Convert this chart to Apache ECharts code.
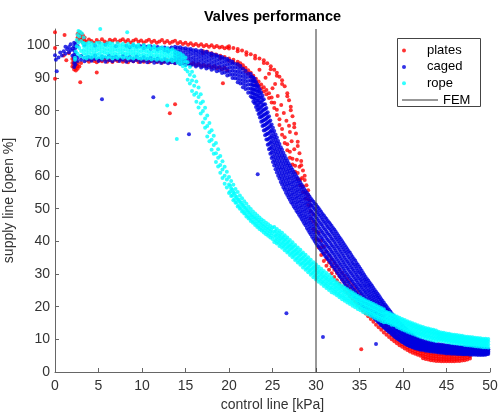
<!DOCTYPE html>
<html>
<head>
<meta charset="utf-8">
<script src="https://cdn.jsdelivr.net/npm/echarts@6/dist/echarts.min.js"></script>
<style>html,body{margin:0;padding:0;background:#fff;}#c{width:498px;height:416px;}</style>
</head>
<body>
<div id="c"></div>
<script>
// ---- tick labels ----
const xTicks = [0, 5, 10, 15, 20, 25, 30, 35, 40, 45, 50];
const yTicks = [0, 10, 20, 30, 40, 50, 60, 70, 80, 90, 100];
const seriesNames = ['plates', 'caged', 'rope', 'FEM'];

// ---- data: each row is [x, y1, y2, ...] (readings of control line kPa vs supply line %) ----
const platesRows = [
[0.0,104.0,99.2,89.8],[1.0,96.9],[1.1,103.2],[1.3,95.4],[1.6,97.6],
[2.0,93.5,94.6,95.8],[2.2,92.6,93.4,94.3,95.2,96.4],[2.4,92.3,93.1,94.0,94.9],[2.6,92.8,93.7,94.6,101.3,102.4,103.5],
[2.8,93.5,101.8,102.9,104.0],[3.0,94.6,101.4,102.5,103.6],[3.2,100.9,102.0,103.1],[3.4,101.5,102.4],
[3.6,101.1,95.5],[3.9,101.8,95.0],[4.2,101.3,95.6],[4.5,100.8,95.2],[4.8,101.6,94.8],[5.1,101.0,95.4],[5.4,101.9,95.1],[5.7,101.2,95.7],
[6.0,100.9,95.0],[6.3,101.7,95.4],[6.6,101.3,94.9],[6.9,101.8,95.6],[7.2,101.0,95.2],[7.5,101.5,95.7],[7.8,101.9,95.0],[8.1,101.2,95.3],
[8.4,101.6,94.8],[8.7,100.9,95.5],[9.0,101.4,95.1],[9.3,101.8,95.6],[9.6,101.1,94.9],[9.9,101.5,95.3],[10.2,100.9,95.0],[10.5,101.3,95.5],
[10.8,101.7,94.8],[11.1,101.0,95.2],[11.4,101.4,95.6],[11.7,100.8,94.9],[12.0,101.2,95.3],[12.3,101.6,94.7],[12.6,100.9,95.1],[12.9,101.3,95.4],
[13.2,100.7,94.8],[13.5,101.1,95.2],[13.8,101.4,94.6],[14.1,100.6,95.0],[14.4,101.0,94.5],[14.7,100.4,94.9],[15.0,100.8,94.3],[15.3,100.2,94.7],
[15.6,100.6,94.1],[15.9,100.0,94.5],[16.2,100.4,93.9],[16.5,99.9,94.3],[16.8,100.3,93.7],[17.1,99.7,94.0],[17.4,100.1,93.5],[17.7,99.6,93.8],
[18.0,100.0,93.2],[18.3,99.4,93.6],[18.6,99.8,93.0],[18.9,99.3,93.3],[19.2,99.6,92.7],[19.5,99.1,93.1],[19.8,99.4,92.4],
[17.0,98.3,97.6],[17.5,98.0],[18.0,97.6,96.9],[18.5,97.2],[19.0,96.8,96.1],[19.5,96.4],[20.0,96.0,95.3],[20.5,95.6,94.8],[21.0,95.0,94.2],
[21.3,94.5,93.6],[21.6,93.9,92.9],[21.9,93.1,92.1],[22.2,92.4,91.3],[22.5,91.6,90.4],[22.8,90.7,89.5],[23.1,89.8,88.6],[23.4,88.9,87.7],
[23.7,88.0,86.8],[24.0,87.2,85.9],[24.3,86.3,85.0],[24.6,85.3,83.9],[24.9,84.0,82.5],[25.2,82.4,80.8],[25.5,80.3,78.7],[25.8,77.4,75.6],
[26.1,74.4,72.6],[26.4,71.9,70.1],[26.7,69.7,67.9],[27.0,67.4,65.6],[27.3,65.3,63.5],[27.6,63.1,61.3],[27.9,60.9,59.1],[28.2,58.9,57.1],
[28.5,56.9,55.1],[28.8,54.9,53.1],[29.1,52.9,51.1],
[20.0,99.7,99.0],[20.5,99.2],[21.0,98.9,98.2],[21.5,98.4],[22.0,97.9,97.1],[22.5,97.3],[23.0,96.8,96.0],[23.5,96.0],[24.0,95.4,94.6],
[24.4,94.5],[24.8,93.6,92.7],[25.2,92.5],[25.5,91.6,90.7],[25.8,90.4],[26.1,89.3,88.2],[26.4,87.5],[26.7,85.3,84.4],[26.9,83.2],
[27.1,81.2,80.1],[27.3,78.3],[27.5,76.0,74.9],[27.7,73.0],[27.9,70.5,69.2],[28.1,67.0],[28.3,64.6,63.3],[28.5,61.7],[28.7,60.1,58.8],
[28.9,57.2],[29.1,55.6,54.1],[29.3,52.4],
[23.5,92.5],[24.2,90.1],[25.0,86.9],[25.6,84.5],[26.0,81.7],[26.3,79.3],[26.6,76.9],[27.0,73.5],[27.2,70.6],[27.5,68.2],[27.8,65.0],
[28.1,62.8],[26.9,75.4],[25.3,88.2],[24.6,91.3],[28.4,59.4],
[29.4,47.0,49.2,51.0],[29.7,43.8,46.1,48.3],[30.0,40.7,43.0,45.2],[30.3,38.1,40.4,42.6],[30.6,35.8,38.0,40.2],[30.9,34.0,36.2,38.4],
[31.2,32.5,34.7,36.9],[31.5,31.3,33.5,35.6],[31.8,30.2,32.4,34.5],[32.1,29.1,31.3,33.4],[32.4,28.1,30.3,32.4],[32.7,27.1,29.3,31.4],
[33.0,26.1,28.3,30.4],[33.3,25.2,27.4,29.5],[33.6,24.2,26.4,28.5],[33.9,23.3,25.5,27.6],[34.2,22.4,24.5,26.6],[34.5,21.5,23.6,25.6],
[34.8,20.6,22.6,24.6],[35.1,19.7,21.6,23.6],[35.4,18.8,20.7,22.6],[35.7,17.9,19.8,21.7],[36.0,17.1,18.9,20.8],[36.3,16.2,18.0,19.8],
[36.6,15.4,17.1,18.9],[36.9,14.5,16.2,18.0],[37.2,13.7,15.3,17.0],[37.5,12.9,14.4,16.0],[37.8,12.1,13.6,15.1],[38.1,11.4,12.8,14.2],
[38.4,10.7,12.0,13.3],[38.7,10.0,11.2,12.4],[39.0,9.4,10.5,11.6],[39.3,8.8,9.8,10.8],[39.6,8.2,9.1,10.0],[39.9,7.7,8.5,9.4],
[40.2,7.2,8.0,8.8],[40.5,6.7,7.5,8.3],[40.8,6.3,7.1,7.8],[41.1,5.9,6.7,7.4],[41.4,5.6,6.3,7.0],[41.7,5.3,6.0,6.7],[42.0,5.0,5.7,6.4],
[42.3,4.2,4.9,5.6,6.3],[42.6,4.0,4.7,5.4,6.1],[42.9,3.8,4.5,5.2,5.9],[43.2,3.6,4.3,5.0,5.7],[43.5,3.5,4.2,4.9,5.6],[43.8,3.4,4.1,4.8,5.5],
[44.1,3.4,4.0,4.7,5.4],[44.4,3.3,4.0,4.7,5.4],[44.7,3.3,4.0,4.6,5.3],[45.0,3.3,3.9,4.6,5.3],[45.3,3.3,3.9,4.6,5.3],[45.6,3.3,4.0,4.6,5.3],
[45.9,3.3,4.0,4.7,5.4],[46.2,3.4,4.0,4.7,5.4],[46.5,3.4,4.1,4.8,5.5],[46.8,3.5,4.2,4.9,5.6],[47.1,3.6,4.3,5.0,5.7],[47.4,3.8,4.5,5.2],[47.7,4.1,4.8]
];
const platesOut = [[2.9,88.7],[4.8,91.7],[13.8,82.0],[13.2,79.2],[19.3,88.4],[35.2,7.0]];

const cagedRows = [
[0.0,97.0],[0.1,95.6],[0.2,92.1],[0.4,96.3],[0.6,97.8],[0.8,96.9],[1.0,98.2],[1.2,97.4,99.6],[1.4,98.8],[1.6,99.5,97.9],[1.8,100.3,98.6],[2.0,99.0,96.8],
[2.2,93.4,94.6,95.9,97.1,98.4,99.7,100.8],[2.35,94.1,95.3,96.6,97.8,99.2,100.4],
[2.6,95.2,96.3,99.8],[3.0,95.6,96.8],[3.4,95.1,96.1,100.1],[3.8,95.7,96.5],[4.2,95.3,96.2],[4.6,95.8,96.9,99.9],[5.0,95.2,96.0],[5.4,95.6,96.6],
[5.8,95.0,96.2,100.2],[6.2,95.5,96.8],[6.6,95.1,96.3],[7.0,95.7,96.5,99.7],[7.4,95.2,96.0],[7.8,95.6,96.7],[8.2,95.0,96.1,99.9],[8.6,95.4,96.4,99.4],
[9.0,95.1,96.0,100.0],[9.4,95.5,96.6,99.6],[9.8,94.9,95.9,99.8],[10.2,95.3,96.4,99.9,99.1],[10.6,94.8,95.8,99.6],[11.0,95.2,96.2,99.7,98.9],
[11.4,94.7,95.6,99.4],[11.8,95.0,96.0,99.5,98.7],[12.2,94.6,95.4,99.2],[12.6,94.9,95.8,99.3,98.5],[13.0,94.5,95.3,99.0,98.1],[13.4,94.8,95.7,98.8,99.3],
[13.8,94.5,95.6,96.7,97.8,98.9,99.6],[14.1,94.9,96.0,97.1,98.2,99.3],[14.4,94.3,95.3,96.4,97.5,98.6,99.4],[14.7,94.6,95.7,96.8,97.9,99.0],
[15.0,94.0,95.1,96.2,97.3,98.4,99.1],[15.3,94.4,95.5,96.6,97.7,98.8],[15.6,93.8,94.9,96.0,97.1,98.2,98.9],[15.9,94.1,95.2,96.3,97.4,98.5],
[16.2,93.5,94.6,95.7,96.8,97.9,98.6],[16.5,93.9,95.0,96.1,97.2,98.2],[16.8,93.2,94.3,95.4,96.5,97.6,98.4],[17.1,93.6,94.7,95.8,96.9,97.9],
[17.4,92.9,94.0,95.1,96.2,97.3,98.0],[17.7,93.2,94.3,95.4,96.5,97.5],[18.0,92.5,93.6,94.7,95.8,96.9,97.5],[18.3,92.8,93.9,95.0,96.1,97.1],
[18.6,92.1,93.2,94.3,95.4,96.5,97.0],[18.9,92.3,93.4,94.5,95.6,96.6],[19.2,91.5,92.6,93.7,94.8,95.9,96.4],[19.5,91.7,92.8,93.9,95.0,96.0],
[19.8,90.8,91.9,93.0,94.1,95.2,95.8],[20.1,91.0,92.1,93.2,94.3,95.3],[20.4,90.0,91.1,92.2,93.3,94.4,95.0],[20.7,89.9,91.0,92.1,93.2,94.3],
[21.0,88.7,89.8,90.9,92.0,93.1,94.2],[21.3,88.3,89.4,90.5,91.6,92.7,93.7],[21.6,87.2,88.3,89.4,90.5,91.6,92.8],[21.9,86.6,87.8,88.9,90.0,91.1,92.2],
[22.2,85.5,86.7,87.9,89.1,90.3,91.4],[22.5,84.4,85.6,86.8,88.0,89.2,90.4,91.2],[22.8,82.8,84.0,85.3,86.5,87.7,88.9,90.1],
[23.1,81.1,82.4,83.7,85.0,86.3,87.6,88.8],[23.4,79.0,80.4,81.8,83.2,84.6,86.0,87.3],[23.7,76.6,78.1,79.6,81.1,82.6,84.1,85.5],
[24.0,73.9,75.5,77.1,78.7,80.3,81.9,83.5],[24.3,71.2,72.8,74.4,76.0,77.6,79.2,80.8],[24.6,68.2,69.8,71.5,73.2,74.9,76.6,78.3],
[24.9,65.5,67.2,68.9,70.6,72.3,74.0,75.8],[25.2,63.2,64.9,66.7,68.5,70.3,72.1,73.8],[25.5,61.1,62.9,64.7,66.5,68.3,70.1,71.8],
[25.8,59.2,60.9,62.7,64.5,66.3,68.1,69.8],[26.1,57.4,59.1,60.9,62.7,64.5,66.3,68.0],[26.4,55.8,57.5,59.3,61.1,62.9,64.7,66.3],
[26.7,54.2,55.9,57.7,59.5,61.3,63.1,64.7],[27.0,52.7,54.4,56.2,58.0,59.8,61.6,63.2],[27.3,51.4,53.1,54.9,56.7,58.5,60.3,61.9],
[27.6,50.1,51.8,53.6,55.4,57.2,59.0,60.6],[27.9,48.8,50.5,52.3,54.1,55.9,57.7,59.3],[28.2,47.5,49.2,51.0,52.8,54.6,56.4,58.0],
[28.5,46.2,47.9,49.7,51.5,53.3,55.1,56.7],[28.8,44.9,46.6,48.4,50.2,52.0,53.8,55.4],[29.1,43.5,45.3,47.1,48.9,50.7,52.5,54.3],
[29.4,42.2,44.0,45.8,47.6,49.4,51.2,53.1],[29.7,40.8,42.7,44.6,46.5,48.4,50.3,52.1],[30.0,39.5,41.4,43.4,45.4,47.4,49.4,51.2],
[30.3,38.4,40.3,42.3,44.3,46.3,48.3,50.1],[30.6,37.3,39.2,41.2,43.2,45.2,47.2,49.0],[30.9,36.2,38.1,40.1,42.1,44.1,46.1,47.9],
[31.2,35.1,37.0,39.0,41.0,43.0,45.0,46.8],[31.5,34.1,36.0,38.0,40.0,42.0,44.0,45.8],[31.8,33.0,34.9,36.9,38.9,40.9,42.9,44.7],
[32.1,31.9,33.8,35.8,37.8,39.8,41.8,43.6],[32.4,30.7,32.6,34.6,36.6,38.6,40.6,42.4],[32.7,29.5,31.4,33.4,35.4,37.4,39.4,41.2],
[33.0,28.3,30.2,32.2,34.2,36.2,38.2,40.0],[33.3,27.1,29.0,31.0,33.0,35.0,37.0,38.8],[33.6,25.9,27.8,29.8,31.8,33.8,35.8,37.6],
[33.9,24.8,26.7,28.7,30.7,32.7,34.7,36.5],[34.2,23.8,25.7,27.7,29.6,31.5,33.4,35.2],[34.5,22.8,24.7,26.6,28.5,30.4,32.3,34.1],
[34.8,21.9,23.7,25.6,27.4,29.2,31.0,32.8],[35.1,21.0,22.8,24.6,26.4,28.2,30.0,31.6],[35.4,20.1,21.8,23.6,25.3,27.0,28.7,30.3],
[35.7,19.3,21.0,22.6,24.3,26.0,27.6,29.1],[36.0,18.5,20.1,21.7,23.3,24.9,26.5,28.0],[36.3,17.6,19.2,20.8,22.3,23.8,25.4,26.9],
[36.6,16.8,18.3,19.8,21.3,22.8,24.3,25.7],[36.9,16.0,17.5,18.9,20.3,21.7,23.2,24.6],[37.2,15.2,16.6,18.0,19.4,20.8,22.2,23.5],
[37.5,14.4,15.8,17.1,18.4,19.7,21.1,22.3],[37.8,13.7,15.0,16.2,17.5,18.8,20.1,21.2],[38.1,13.0,14.2,15.4,16.6,17.8,19.0,20.1],
[38.4,12.3,13.4,14.6,15.7,16.8,18.0,19.0],[38.7,11.6,12.7,13.8,14.8,15.9,17.0,17.9],[39.0,10.9,12.0,13.0,14.0,15.0,16.1,17.0],
[39.3,10.3,11.3,12.3,13.2,14.2,15.2,16.0],[39.6,9.8,10.7,11.6,12.5,13.4,14.3,15.1],[39.9,9.2,10.1,11.0,11.8,12.7,13.6,14.3],
[40.2,8.7,9.5,10.3,11.1,12.0,12.8,13.5],[40.5,8.3,9.0,9.8,10.5,11.3,12.1,12.7],[40.8,7.9,8.6,9.3,10.0,10.7,11.5,12.0],
[41.1,7.6,8.3,9.0,9.6,10.3,11.0,11.5],[41.4,7.3,8.0,8.6,9.2,9.9,10.6],[41.7,7.1,7.7,8.3,8.9,9.5,10.2],[42.0,6.8,7.4,8.0,8.6,9.2,9.9],
[42.3,6.7,7.3,7.9,8.4,9.0,9.6],[42.6,6.5,7.1,7.7,8.2,8.8,9.4],[42.9,6.4,7.0,7.5,8.0,8.6,9.2],[43.2,6.3,6.8,7.3,7.8,8.4,9.0],
[43.5,6.2,6.7,7.2,7.7,8.2,8.8],[43.8,6.1,6.6,7.1,7.6,8.1,8.6],[44.1,6.0,6.5,7.0,7.5,8.0,8.5],[44.4,5.9,6.4,6.9,7.4,7.9,8.4],
[44.7,5.8,6.3,6.8,7.3,7.8,8.3],[45.0,5.7,6.2,6.7,7.2,7.7,8.2],[45.3,5.7,6.2,6.7,7.1,7.6,8.1],[45.6,5.6,6.1,6.6,7.0,7.5,8.0],
[45.9,5.6,6.1,6.5,7.0,7.4,7.9],[46.2,5.5,6.0,6.5,6.9,7.4,7.8],[46.5,5.5,6.0,6.4,6.9,7.3,7.8],[46.8,5.4,5.9,6.4,6.8,7.3,7.7],
[47.1,5.4,5.9,6.3,6.8,7.2,7.7],[47.4,5.4,5.8,6.3,6.7,7.2,7.6],[47.7,5.3,5.8,6.2,6.7,7.1,7.6],[48.0,5.3,5.8,6.2,6.6,7.1,7.5],
[48.3,5.3,5.7,6.2,6.6,7.0,7.5],[48.6,5.2,5.7,6.1,6.6,7.0,7.4],[48.9,5.2,5.7,6.1,6.5,7.0,7.4],[49.2,5.2,5.6,6.1,6.5,6.9,7.3],
[49.5,5.3,5.7,6.1,6.5,6.9,7.2],[49.8,5.5,5.9,6.3,6.7,7.0]
];
const cagedFill = [
[22.65,84.0,85.4,86.6,87.9,89.1,90.4],[22.95,82.3,83.6,84.9,86.3,87.6,88.9,89.7],[23.25,80.2,81.5,83.0,84.4,85.8,87.1,88.0],
[23.55,77.9,79.3,80.8,82.4,83.9,85.3,86.4],[23.85,75.3,76.8,78.4,80.0,81.6,83.2,84.6],[24.15,72.5,74.1,75.7,77.3,78.9,80.5,82.0],
[24.45,69.6,71.2,72.9,74.6,76.3,78.0,79.5],[24.75,66.8,68.5,70.2,71.9,73.6,75.3,77.0],[25.05,64.3,66.0,67.8,69.6,71.4,73.2,74.8],
[25.35,62.1,63.9,65.7,67.5,69.3,71.1,72.7],[25.65,60.1,61.9,63.7,65.5,67.3,69.1,70.7],[25.95,58.2,60.0,61.8,63.6,65.4,67.2,68.8],
[26.25,56.5,58.3,60.1,61.9,63.7,65.5,67.1],[26.55,54.9,56.7,58.5,60.3,62.1,63.9,65.4],[26.85,53.4,55.2,57.0,58.8,60.6,62.4,63.9],
[27.15,52.0,53.8,55.6,57.4,59.2,61.0,62.5],[27.45,50.7,52.5,54.3,56.1,57.9,59.7,61.2],[27.75,49.4,51.2,53.0,54.8,56.6,58.4,59.9],
[28.05,48.1,49.9,51.7,53.5,55.3,57.1,58.6],[28.35,46.8,48.6,50.4,52.2,54.0,55.8,57.3],[28.65,45.5,47.3,49.1,50.9,52.7,54.5,56.0],
[28.95,44.1,45.9,47.7,49.6,51.4,53.2,54.9],[29.25,42.8,44.6,46.4,48.3,50.1,51.9,53.7],[29.55,41.4,43.3,45.2,47.1,49.0,50.9,52.6],
[29.85,40.1,42.0,44.0,46.0,48.0,49.9,51.6],[30.15,38.9,40.9,42.9,44.9,46.9,48.9,50.6],[30.45,37.8,39.8,41.8,43.8,45.8,47.8,49.5],
[30.75,36.7,38.7,40.7,42.7,44.7,46.7,48.4],[31.05,35.6,37.6,39.6,41.6,43.6,45.6,47.3],[31.35,34.6,36.5,38.5,40.5,42.5,44.5,46.2],
[31.65,33.5,35.5,37.5,39.5,41.5,43.5,45.2],[31.95,32.4,34.4,36.4,38.4,40.4,42.4,44.1],[32.25,31.3,33.2,35.2,37.2,39.2,41.2,43.0],
[32.55,30.1,32.0,34.0,36.0,38.0,40.0,41.8],[32.85,28.9,30.8,32.8,34.8,36.8,38.8,40.6],[33.15,27.7,29.6,31.6,33.6,35.6,37.6,39.4],
[33.45,26.5,28.4,30.4,32.4,34.4,36.4,38.2],[33.75,25.4,27.3,29.3,31.3,33.3,35.2,37.0],[34.05,24.3,26.2,28.2,30.2,32.1,34.0,35.8],
[34.35,23.3,25.2,27.1,29.1,31.0,32.9,34.6],[34.65,22.4,24.2,26.1,28.0,29.8,31.7,33.4],[34.95,21.5,23.3,25.1,26.9,28.7,30.5,32.2],
[35.25,20.6,22.3,24.1,25.9,27.6,29.4,31.0],[35.55,19.7,21.4,23.1,24.8,26.5,28.2,29.7],[35.85,18.9,20.6,22.2,23.8,25.4,27.0,28.5],
[36.15,18.0,19.6,21.2,22.8,24.4,26.0,27.4],[36.45,17.2,18.7,20.3,21.8,23.3,24.8,26.3],[36.75,16.4,17.9,19.4,20.8,22.2,23.7,25.1],
[37.05,15.6,17.0,18.4,19.9,21.3,22.7,24.0],[37.35,14.8,16.2,17.6,18.9,20.2,21.6,22.9],[37.65,14.1,15.4,16.7,18.0,19.3,20.6,21.7],
[37.95,13.3,14.6,15.8,17.0,18.3,19.5,20.6],[38.25,12.6,13.8,15.0,16.2,17.3,18.5,19.5],[38.55,12.0,13.1,14.2,15.3,16.4,17.5,18.5],
[38.85,11.3,12.4,13.4,14.4,15.5,16.5,17.4],[39.15,10.6,11.7,12.7,13.6,14.6,15.6,16.5],[39.45,10.0,11.0,12.0,12.9,13.8,14.8,15.6],
[39.75,9.5,10.4,11.3,12.2,13.1,14.0,14.7],[40.05,9.0,9.8,10.7,11.5,12.3,13.2,13.9],[40.35,8.5,9.3,10.0,10.8,11.6,12.5,13.1],
[40.65,8.1,8.8,9.5,10.3,11.0,11.8,12.4],[40.95,7.8,8.5,9.2,9.8,10.5,11.2,11.8],[41.25,7.5,8.1,8.8,9.4,10.1,10.8],
[41.55,7.2,7.8,8.5,9.1,9.7,10.4],[41.85,7.0,7.6,8.2,8.8,9.4,10.0],[42.15,7.0,7.6,8.1,8.7,9.3],[42.45,6.9,7.4,8.0,8.5,9.1],
[42.75,6.7,7.3,7.8,8.3,8.9],[43.05,6.6,7.1,7.6,8.1,8.7],[43.35,6.5,7.0,7.5,8.0,8.5],[43.65,6.4,6.9,7.4,7.9,8.4],[43.95,6.3,6.8,7.3,7.8,8.3],
[44.25,6.2,6.7,7.2,7.7,8.2],[44.55,6.1,6.6,7.1,7.6,8.1],[44.85,6.0,6.5,7.0,7.5,8.0],[45.15,5.9,6.4,6.9,7.4,7.9],[45.45,5.9,6.4,6.8,7.3,7.8],
[45.75,5.8,6.3,6.8,7.2,7.7],[46.05,5.8,6.3,6.7,7.2,7.6],[46.35,5.7,6.2,6.7,7.1,7.6],[46.65,5.7,6.2,6.6,7.1,7.5],[46.95,5.6,6.1,6.6,7.0,7.5],
[47.25,5.6,6.1,6.5,7.0,7.4],[47.55,5.6,6.0,6.5,6.9,7.4],[47.85,5.5,6.0,6.4,6.9,7.3],[48.15,5.5,6.0,6.4,6.8,7.3],[48.45,5.5,5.9,6.4,6.8,7.2],
[48.75,5.4,5.9,6.3,6.8,7.2],[49.05,5.4,5.9,6.3,6.7,7.1],[49.35,5.4,5.8,6.3,6.7,7.1],[49.65,5.5,5.9,6.3,6.7,7.0]
];
const cagedOut = [[5.4,83.5],[11.3,84.1],[15.4,72.8],[23.3,60.5],[26.6,18.0],[30.8,10.7],[36.9,8.6]];

const ropeRows = [
[2.3,96.2,95.6],[2.4,98.1],[2.5,99.7,101.6],[2.6,103.2,97.4],[2.7,104.4,100.9],[2.8,102.7,99.2],[2.9,104.1,96.7],[3.0,101.3,98.3],[3.1,103.6],[3.2,100.6],
[3.3,96.3,97.5,98.6,99.8,100.7,102.4],[3.6,96.0,97.1,98.3,99.4,100.5],[3.9,96.5,97.7,98.9,100.0,100.9],[4.2,96.2,97.3,98.5,99.6,100.6],
[4.5,96.7,97.9,99.0,100.2],[4.8,96.1,97.2,98.4,99.5,100.7],[5.1,96.4,97.6,98.8,99.9,100.8],[5.4,96.0,97.0,98.2,99.3,100.4],
[5.7,96.6,97.8,98.9,100.1],[6.0,96.2,97.4,98.6,99.7,100.6],[6.3,96.5,97.7,98.8,99.9,100.7],[6.6,96.0,97.1,98.3,99.4,100.5],
[6.9,96.4,97.6,98.7,99.8],[7.2,96.1,97.3,98.5,99.6,100.6],[7.5,96.6,97.8,98.9,100.0],[7.8,96.2,97.4,98.5,99.6,100.5],
[8.1,96.5,97.6,98.8,99.9],[8.4,96.0,97.2,98.3,99.4,100.4],[8.7,96.3,97.5,98.6,99.7],[9.0,96.0,97.1,98.2,99.3,100.3],
[9.3,96.4,97.6,98.7,99.8],[9.6,96.1,97.2,98.3,99.4,100.2],[9.9,95.9,97.0,98.1,99.2],[10.2,96.2,97.3,98.4,99.5,100.1],
[10.5,95.8,96.9,98.0,99.1],[10.8,96.1,97.2,98.2,99.3,99.9],[11.1,95.7,96.8,97.9,99.0],[11.4,96.0,97.0,98.1,99.1,99.8],
[11.7,95.6,96.7,97.7,98.8],[12.0,95.9,96.9,98.0,99.0],[12.3,95.5,96.5,97.6,98.6,99.4],[12.6,95.8,96.8,97.8,98.8],
[12.9,95.3,96.4,97.4,98.4,99.1],[13.2,95.6,96.6,97.6,98.5],[13.5,95.1,96.1,97.1,98.1,98.8],[13.8,95.4,96.4,97.3,98.2],
[14.1,94.7,95.8,96.8,97.8],[14.4,94.3,95.3,96.4,97.5],[14.7,93.6,94.8,95.9,97.0],[15.0,92.7,93.9,95.1,96.3],
[15.25,89.5,92.0,94.8],[15.5,88.3,91.0,93.4],[15.75,86.0,89.2,91.9],[16.0,84.9,87.6,90.5],[16.25,82.7,85.4,88.9],[16.5,81.0,84.2,87.1],
[16.75,79.1,82.3,85.0],[17.0,76.4,79.9,82.8],[17.25,74.8,77.6,80.9],[17.5,72.1,75.3,78.5],[17.75,70.6,73.4,76.2],[18.0,68.0,71.1,74.0],
[18.25,66.8,69.5,72.3],[18.5,64.3,67.0,70.1],[18.75,62.9,65.6,68.2],[19.0,61.0,63.4,66.1],[19.25,59.4,62.0,64.5],[19.5,57.6,60.1,62.8],
[19.75,56.5,58.9,61.3],[20.0,54.8,57.4,59.7],[20.25,53.9,56.2,58.5],[20.5,52.6,55.0,57.3],[20.75,51.8,53.9,56.0],[21.0,50.7,52.9,55.1],
[21.25,50.0,52.1,54.0],[21.5,49.1,51.2,53.2],[21.75,48.5,50.4,52.3],[22.0,47.6,49.5,51.5],[22.25,47.0,48.8,50.6],[22.5,46.2,48.0,49.9],
[22.75,45.7,47.4,49.1],[23.0,45.0,46.8,48.5],[23.25,44.4,46.1,47.9],[23.5,43.8,45.6,47.3],[23.75,43.3,45.0,46.7],[24.0,42.7,44.5,46.2],
[24.25,42.2,43.9,45.7],[24.5,41.7,43.5,45.2],[24.75,41.2,43.0,44.7],[25.0,40.7,42.5,44.2],
[25.2,39.8,41.4,42.9,44.4],[25.5,39.3,40.7,42.2,43.8],[25.8,38.6,40.2,41.6,43.2],[26.1,38.0,39.5,41.0,42.6],[26.4,37.3,38.9,40.3,41.9],
[26.7,36.6,38.1,39.6,41.2],[27.0,35.8,37.4,38.8,40.4],[27.3,35.1,36.6,38.1,39.7],[27.6,34.3,35.9,37.3,38.9],[27.9,33.5,35.0,36.5,38.1],
[28.2,32.8,34.4,35.8,37.4],[28.5,32.0,33.5,35.0,36.6],[28.8,31.3,32.8,34.3,35.9],[29.1,30.5,32.0,33.5,35.1],[29.4,29.8,31.3,32.8,34.4],
[29.7,29.0,30.5,32.0,33.6],[30.0,28.3,29.8,31.3,32.9],[30.3,27.6,29.1,30.6,32.2],[30.6,27.0,28.5,30.0,31.6],[30.9,26.3,27.8,29.3,30.9],
[31.2,25.7,27.2,28.7,30.3],[31.5,25.1,26.6,28.1,29.7],[31.8,24.4,25.9,27.4,29.0],[32.1,24.0,25.4,26.8,28.2],[32.4,23.5,24.8,26.2,27.5],
[32.7,22.9,24.2,25.6,26.9],[33.0,22.3,23.6,25.0,26.3],[33.3,21.8,23.1,24.5,25.8],[33.6,21.3,22.6,24.0,25.3],[33.9,20.8,22.1,23.5,24.8],
[34.2,20.3,21.6,23.0,24.3],[34.5,19.8,21.1,22.5,23.8],[34.8,19.3,20.6,22.0,23.3],[35.1,18.9,20.2,21.6,22.9],[35.4,18.4,19.7,21.1,22.4],
[35.7,18.0,19.3,20.7,22.0],[36.0,17.6,18.9,20.3,21.6],[36.3,17.2,18.5,19.9,21.2],[36.6,16.8,18.1,19.5,20.8],[36.9,16.4,17.7,19.1,20.4],
[37.2,16.0,17.3,18.7,20.0],[37.5,15.6,16.9,18.3,19.6],[37.8,15.2,16.5,17.9,19.2],[38.1,15.2,16.3,17.4,18.4],[38.4,14.9,16.0,17.1,18.1],
[38.7,14.5,15.6,16.7,17.7],[39.0,14.3,15.3,16.4,17.4],[39.3,13.8,14.9,16.0,17.0],[39.6,13.4,14.5,15.6,16.6],[39.9,13.0,14.1,15.2,16.2],
[40.2,12.7,13.8,14.9,15.9],[40.5,12.3,13.4,14.5,15.5],[40.8,12.0,13.1,14.2,15.2],[41.1,11.7,12.8,13.9,14.9],[41.4,11.4,12.5,13.6,14.6],
[41.7,11.1,12.2,13.3,14.3],[42.0,10.8,11.9,13.0,14.0],[42.3,10.6,11.7,12.8,13.8],[42.6,10.3,11.4,12.5,13.5],[42.9,10.1,11.2,12.3,13.3],
[43.2,9.9,11.0,12.1,13.1],[43.5,9.7,10.8,11.9,12.9],[43.8,9.5,10.6,11.7,12.7],[44.1,9.7,10.6,11.5,12.3],[44.4,9.5,10.4,11.3,12.1],
[44.7,9.4,10.3,11.2,12.0],[45.0,9.2,10.1,11.0,11.8],[45.3,9.1,10.0,10.9,11.7],[45.6,8.9,9.8,10.7,11.5],[45.9,8.8,9.7,10.6,11.4],
[46.2,8.7,9.6,10.5,11.3],[46.5,8.6,9.5,10.4,11.2],[46.8,8.5,9.4,10.3,11.1],[47.1,8.3,9.2,10.1,10.9],[47.4,8.2,9.1,10.0,10.8],
[47.7,8.1,9.0,9.9,10.7],[48.0,8.0,8.9,9.8,10.6],[48.3,7.9,8.8,9.7,10.5],[48.6,7.8,8.7,9.6,10.4],[48.9,7.7,8.6,9.5,10.3],
[49.2,7.6,8.5,9.4,10.2],[49.5,7.6,8.5,9.4,10.2],[49.8,7.5,8.4,9.3,10.1]
];
const ropeFill = [
[20.125,55.2,57.0],[20.375,54.0,55.8],[20.625,52.9,54.7],[20.875,51.9,53.6],[21.125,51.0,52.7],[21.375,50.2,51.9],[21.625,49.4,51.1],
[21.875,48.6,50.3],[22.125,47.9,49.6],[22.375,47.2,48.9],[22.625,46.6,48.2],[22.875,46.0,47.6],[23.125,45.4,47.1],[23.375,44.8,46.5],
[23.625,44.3,46.0],[23.875,43.8,45.4],[24.125,43.3,44.9],[24.375,42.8,44.4],[24.625,42.3,44.0],[24.875,41.8,43.5],
[25.35,40.3,41.8,43.2],[25.65,39.7,41.2,42.6],[25.95,39.1,40.6,42.0],[26.25,38.4,39.9,41.3],[26.55,37.7,39.2,40.6],[26.85,37.0,38.5,39.9],
[27.15,36.2,37.7,39.1],[27.45,35.5,37.0,38.4],[27.75,34.7,36.2,37.6],[28.05,34.0,35.5,36.9],[28.35,33.2,34.7,36.1],[28.65,32.5,34.0,35.4],
[28.95,31.7,33.2,34.6],[29.25,31.0,32.5,33.9],[29.55,30.2,31.7,33.1],[29.85,29.5,31.0,32.4],[30.15,28.8,30.3,31.7],[30.45,28.1,29.6,31.0],
[30.75,27.5,29.0,30.4],[31.05,26.8,28.3,29.7],[31.35,26.2,27.7,29.1],[31.65,25.6,27.1,28.5],[31.95,25.0,26.5,27.9],[32.25,24.5,25.9,27.2],
[32.55,23.9,25.3,26.6],[32.85,23.3,24.7,26.0],[33.15,22.8,24.2,25.5],[33.45,22.3,23.7,25.0],[33.75,21.8,23.2,24.5],[34.05,21.3,22.7,24.0],
[34.35,20.8,22.2,23.5],[34.65,20.3,21.7,23.0],[34.95,19.9,21.3,22.6],[35.25,19.4,20.8,22.1],[35.55,19.0,20.4,21.7],[35.85,18.6,20.0,21.3],
[36.15,18.2,19.6,20.9],[36.45,17.8,19.2,20.5],[36.75,17.4,18.8,20.1],[37.05,17.0,18.4,19.7],[37.35,16.6,18.0,19.3],[37.65,16.2,17.6,18.9],
[37.95,15.9,17.1,18.3],[38.25,15.6,16.8,17.9],[38.55,15.3,16.4,17.5],[38.85,15.0,16.1,17.2],[39.15,14.6,15.7,16.8],[39.45,14.2,15.3,16.4],
[39.75,13.8,14.9,16.0],[40.05,13.5,14.6,15.6],[40.35,13.1,14.2,15.3],[40.65,12.8,13.9,14.9],[40.95,12.5,13.6,14.6],[41.25,12.2,13.3,14.3],
[41.55,11.9,13.0,14.0],[41.85,11.6,12.7,13.7],[42.15,11.4,12.5,13.5],[42.45,11.1,12.2,13.2],[42.75,10.9,12.0,13.0],[43.05,10.7,11.8,12.8],
[43.35,10.5,11.6,12.6],[43.65,10.3,11.4,12.4],[43.95,10.2,11.2,12.1],[44.25,10.1,11.0,11.8],[44.55,10.0,10.9,11.7],[44.85,9.8,10.7,11.5],
[45.15,9.7,10.6,11.4],[45.45,9.6,10.5,11.3],[45.75,9.4,10.3,11.1],[46.05,9.3,10.2,11.0],[46.35,9.2,10.1,10.9],[46.65,9.1,10.0,10.8],
[46.95,9.0,9.9,10.6],[47.25,8.8,9.7,10.5],[47.55,8.7,9.6,10.4],[47.85,8.6,9.5,10.3],[48.15,8.5,9.4,10.2],[48.45,8.4,9.3,10.1],
[48.75,8.3,9.2,10.0],[49.05,8.2,9.1,9.9],[49.35,8.1,9.0,9.8],[49.65,8.1,9.0,9.7]
];
const ropeOut = [[5.2,105.0],[8.3,104.0],[12.9,81.6],[14.0,71.3]];

const femX = [30, 30];
const femY = [0, 105];

// ---- build point lists from the rows ----
function toPoints(rowSets, extra) {
  const pts = [];
  rowSets.forEach(rows => rows.forEach(r => { for (let i = 1; i < r.length; i++) pts.push([r[0], r[i]]); }));
  extra.forEach(p => pts.push(p));
  return pts;
}

const font = 'Liberation Sans, Arial, Helvetica, sans-serif';
const chart = echarts.init(document.getElementById('c'), null, {renderer: 'canvas'});
const dot = 4;
const legendText = {fontFamily: font, fontSize: 13, color: '#000'};
chart.setOption({
  animation: false,
  backgroundColor: '#ffffff',
  title: {
    text: 'Valves performance', left: 204, top: 9, padding: 0,
    textStyle: {fontFamily: font, fontSize: 14.5, fontWeight: 'bold', color: '#000'}
  },
  graphic: [{
    type: 'rect', z: 3, silent: true,
    shape: {x: 397.5, y: 38.5, width: 83, height: 68},
    style: {fill: '#fff', stroke: '#444', lineWidth: 1}
  }],
  legend: [{
    data: seriesNames.slice(0, 3), orient: 'vertical', left: 402, top: 44,
    itemWidth: 36, itemHeight: 4, itemGap: 3.4, padding: 0, z: 5,
    selectedMode: false, textStyle: legendText
  }, {
    data: [{name: seriesNames[3], icon: 'rect'}], orient: 'vertical', left: 402, top: 93.5,
    itemWidth: 36, itemHeight: 1, padding: 0, z: 5,
    selectedMode: false, textStyle: legendText
  }],
  grid: {left: 55, right: 8, top: 29, bottom: 44, containLabel: false, outerBoundsMode: 'none'},
  xAxis: {
    type: 'value', min: xTicks[0], max: xTicks[xTicks.length - 1], interval: 5,
    name: 'control line [kPa]', nameLocation: 'middle', nameGap: 20,
    nameTextStyle: {fontFamily: font, fontSize: 14, color: '#333'},
    axisLine: {show: true, lineStyle: {color: '#666', width: 1}},
    axisTick: {show: true, inside: true, length: 4, lineStyle: {color: '#666'}, customValues: xTicks},
    axisLabel: {fontFamily: font, fontSize: 14, color: '#333', margin: 7, customValues: xTicks},
    splitLine: {show: false}
  },
  yAxis: {
    type: 'value', min: 0, max: 105, interval: 10,
    name: 'supply line [open %]', nameLocation: 'middle', nameGap: 33,
    nameTextStyle: {fontFamily: font, fontSize: 14, color: '#333'},
    axisLine: {show: true, lineStyle: {color: '#666', width: 1}},
    axisTick: {show: true, inside: true, length: 4, lineStyle: {color: '#666'}, customValues: yTicks},
    axisLabel: {fontFamily: font, fontSize: 14, color: '#333', margin: 5, customValues: yTicks},
    splitLine: {show: false}
  },
  series: [
    {name: seriesNames[0], type: 'scatter', symbol: 'circle', symbolSize: dot, silent: true,
     itemStyle: {color: '#ff0000'}, data: toPoints([platesRows], platesOut)},
    {name: seriesNames[1], type: 'scatter', symbol: 'circle', symbolSize: dot, silent: true,
     itemStyle: {color: '#0000e0'}, data: toPoints([cagedRows, cagedFill], cagedOut)},
    {name: seriesNames[2], type: 'scatter', symbol: 'circle', symbolSize: dot, silent: true,
     itemStyle: {color: '#00ffff'}, data: toPoints([ropeRows, ropeFill], ropeOut)},
    {name: seriesNames[3], type: 'line', symbol: 'none', silent: true,
     lineStyle: {color: '#333', width: 1}, itemStyle: {color: '#333'},
     data: femX.map((x, i) => [x, femY[i]])}
  ]
});
</script>
</body>
</html>
